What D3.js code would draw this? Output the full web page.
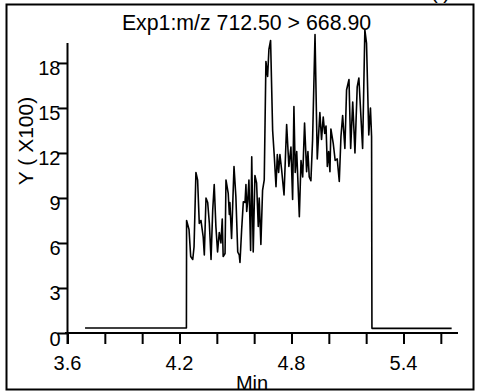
<!DOCTYPE html>
<html><head><meta charset="utf-8">
<script src="https://cdn.jsdelivr.net/npm/d3@7"></script>
<style>body{margin:0;background:#fff}svg{display:block}text{font-family:"Liberation Sans",Arial,sans-serif;fill:#000}</style>
</head><body>
<script>
const title = "Exp1:m/z 712.50 > 668.90";
const xLabel = "Min";
const yLabel = "Y ( X100)";
const xTicks = [3.6,3.8,4.0,4.2,4.4,4.6,4.8,5.0,5.2,5.4,5.6];
const xTickLabels = [3.6,4.2,4.8,5.4];
const yTicks = [0,3,6,9,12,15,18];
// time (min)
const times = [3.694,4.237,4.238,4.251,4.260,4.271,4.278,4.288,4.297,4.306,4.315,4.327,4.333,4.342,4.351,4.360,4.369,4.378,4.386,4.395,4.404,4.413,4.422,4.429,4.434,4.444,4.449,4.461,4.467,4.470,4.479,4.492,4.502,4.512,4.520,4.524,4.533,4.542,4.551,4.556,4.560,4.565,4.572,4.581,4.587,4.595,4.604,4.613,4.622,4.627,4.636,4.645,4.654,4.663,4.672,4.679,4.688,4.699,4.708,4.717,4.724,4.731,4.738,4.747,4.760,4.774,4.786,4.797,4.806,4.813,4.820,4.828,4.842,4.851,4.860,4.870,4.881,4.888,4.895,4.904,4.913,4.926,4.938,4.952,4.961,4.970,4.978,4.985,4.992,4.999,5.006,5.011,5.024,5.034,5.045,5.056,5.065,5.074,5.086,5.095,5.108,5.117,5.128,5.140,5.152,5.161,5.181,5.193,5.202,5.214,5.223,5.229,5.231,5.658];
// intensity (x100)
const intensity = [0.33,0.33,7.5,6.9,5.1,4.9,5.75,10.7,10.2,7.3,7.5,6.4,5.2,9.0,8.7,7.3,4.9,8.2,9.9,7.1,5.4,6.7,6.0,7.6,5.1,5.3,10.2,9.3,7.9,8.7,6.3,11.1,9.1,5.4,5.2,4.7,6.9,8.75,8.7,9.9,8.1,8.75,10.2,5.5,11.75,5.4,10.5,10.0,7.1,9.0,5.9,9.5,10.2,18.1,17.1,18.9,19.5,13.5,11.75,9.75,11.9,10.7,11.9,10.9,9.2,13.9,11.1,12.4,8.9,15.1,10.7,12.1,7.75,11.5,10.4,14.0,10.75,12.1,10.4,10.15,12.9,19.9,11.6,14.7,12.9,14.4,13.3,13.8,11.1,12.1,10.75,13.6,12.6,11.5,11.6,10.1,13.1,14.5,12.3,16.2,16.9,12.3,15.4,12.0,16.4,17.0,12.3,20.2,19.3,13.2,15.0,13.1,0.31,0.31];

const W = 479, H = 392;
const svg = d3.select("body").append("svg").attr("width", W).attr("height", H);

// frame
svg.append("rect").attr("x",6.5).attr("y",4.5).attr("width",467).attr("height",385)
  .attr("fill","none").attr("stroke","#000").attr("stroke-width",2);

// clipped header text above the frame
svg.append("text").attr("x",450).attr("y",-1).attr("text-anchor","end")
  .attr("font-size",20).text("(      )");

const x = d3.scaleLinear().domain([3.6, 5.692]).range([67.5, 458]);
const y = d3.scaleLinear().domain([0, 19.33]).range([333, 43]);

// x axis
const gx = svg.append("g").attr("transform","translate(0,333)")
  .call(d3.axisBottom(x).tickValues(xTicks).tickSize(11).tickSizeOuter(0).tickFormat(""));
gx.select(".domain").attr("stroke-width",2).attr("d","M65,0H458");
gx.selectAll(".tick line").attr("stroke-width",2);
gx.selectAll(".tick text").remove();
gx.selectAll(".xl").data(xTickLabels).enter().append("text").attr("class","xl")
  .attr("x", d=>x(d)).attr("y",37).attr("text-anchor","middle").attr("font-size",20)
  .text(d=>d.toFixed(1));

// y axis
const gy = svg.append("g").attr("transform","translate(67.5,0)")
  .call(d3.axisLeft(y).tickValues(yTicks).tickSize(10).tickSizeOuter(0).tickFormat(""));
gy.select(".domain").attr("stroke-width",2).attr("d","M0,43V344");
gy.selectAll(".tick line").attr("stroke-width",2);
gy.selectAll(".tick text").remove();
gy.selectAll(".yl").data(yTicks).enter().append("text").attr("class","yl")
  .attr("x",-7).attr("y", d=>y(d)+12.5).attr("text-anchor","end").attr("font-size",20)
  .text(d=>d);

// line
const line = d3.line().x((d,i)=>x(times[i])).y(d=>y(d));
svg.append("path").datum(intensity).attr("d", line)
  .attr("fill","none").attr("stroke","#000").attr("stroke-width",1.6).attr("stroke-linejoin","round");

// title & labels
svg.append("text").attr("x",246.5).attr("y",30).attr("text-anchor","middle").attr("font-size",21.3).text(title);
svg.append("text").attr("x",252).attr("y",390).attr("text-anchor","middle").attr("font-size",20).text(xLabel);
svg.append("text").attr("transform","translate(33,141) rotate(-90)").attr("text-anchor","middle")
  .attr("font-size",21).text(yLabel);
</script>
</body></html>
